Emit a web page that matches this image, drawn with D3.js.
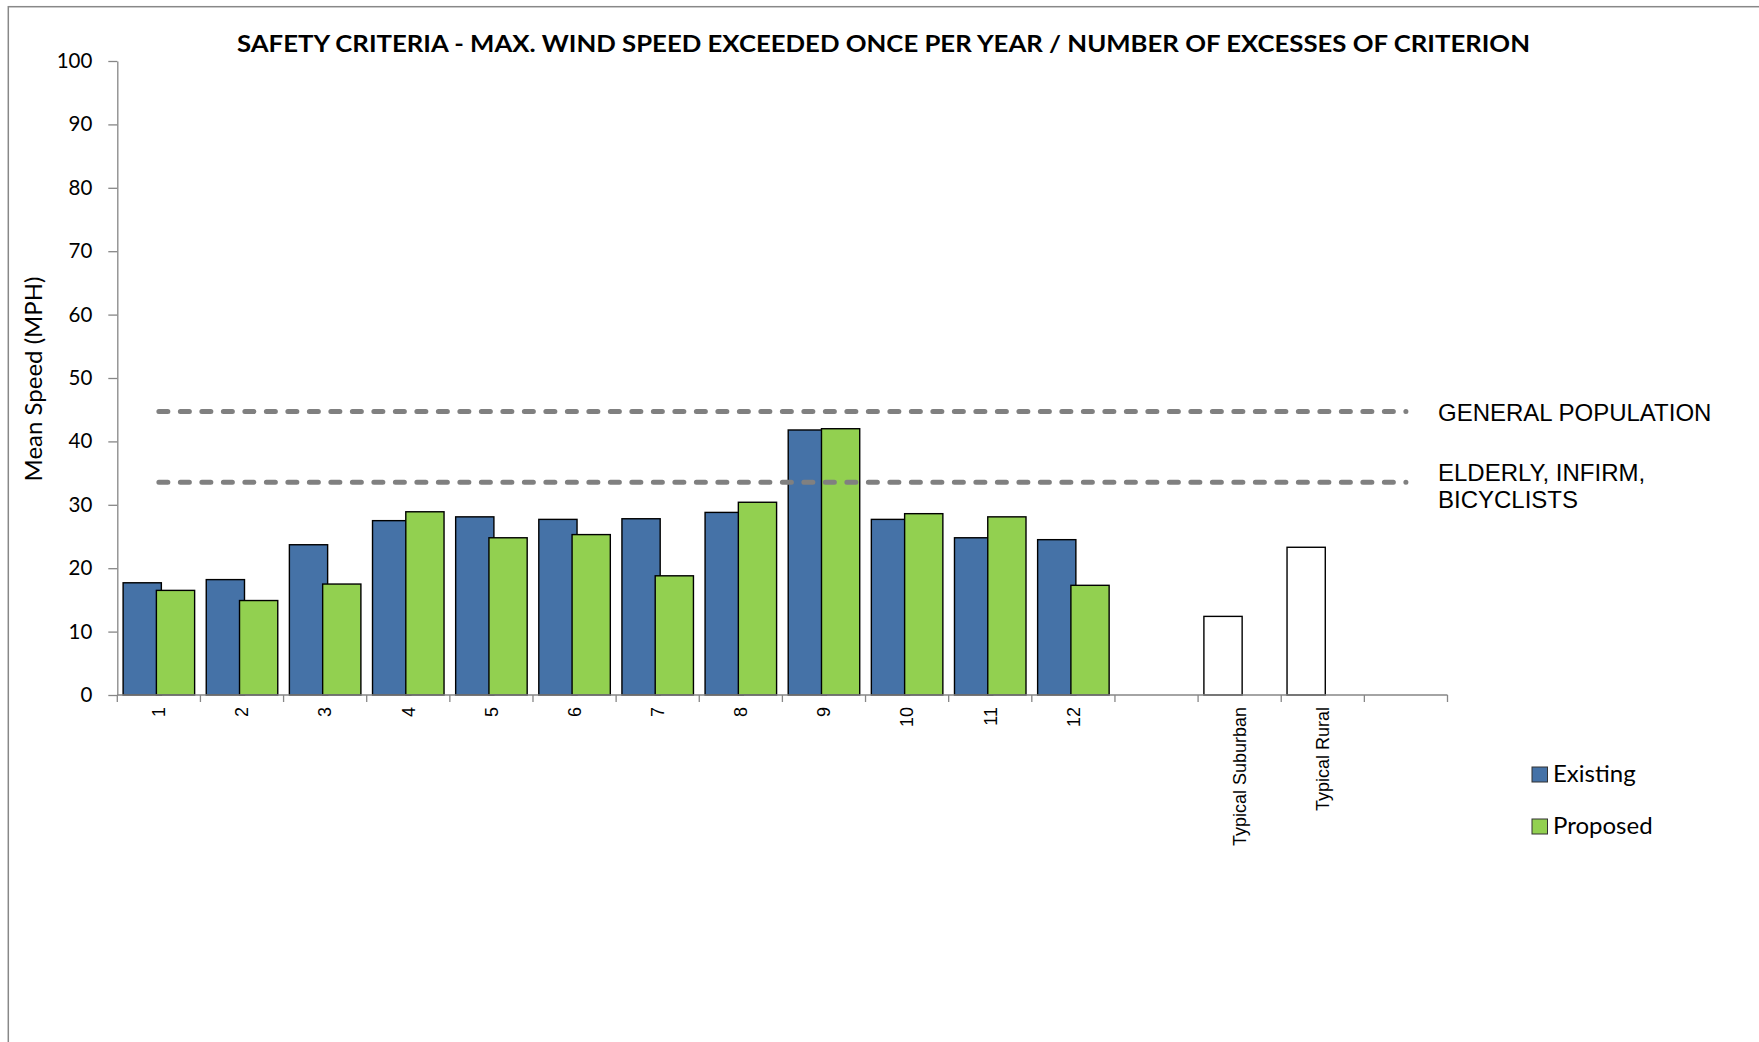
<!DOCTYPE html>
<html>
<head>
<meta charset="utf-8">
<script src="https://cdn.jsdelivr.net/npm/d3@7"></script>
<style>
  html, body { margin: 0; padding: 0; background: #fff; }
  svg { display: block; }
</style>
</head>
<body>
<script>
// ---------------- DATA ----------------
const categories = ["1","2","3","4","5","6","7","8","9","10","11","12","","Typical Suburban","Typical Rural",""];
const existing  = [17.7, 18.2, 23.7, 27.5, 28.1, 27.7, 27.8, 28.8, 41.8, 27.7, 24.8, 24.5, null, null, null, null];
const proposed  = [16.5, 14.9, 17.5, 28.9, 24.8, 25.3, 18.8, 30.4, 42.0, 28.6, 28.1, 17.3, null, null, null, null];
const typical   = [null, null, null, null, null, null, null, null, null, null, null, null, null, 12.4, 23.3, null];
const yTicks = [0, 10, 20, 30, 40, 50, 60, 70, 80, 90, 100];
const criteria = [
  { value: 44.7,  label: ["GENERAL POPULATION"] },
  { value: 33.55, label: ["ELDERLY, INFIRM,", "BICYCLISTS"] }
];
const seriesNames = ["Existing", "Proposed"];
const titleText = "SAFETY CRITERIA - MAX. WIND SPEED EXCEEDED ONCE PER YEAR / NUMBER OF EXCESSES OF CRITERION";
const yTitle = "Mean Speed (MPH)";

// ---------------- LAYOUT ----------------
const W = 1759, H = 1042;
const plotLeft = 117.3, plotRight = 1447.5, plotTop = 61, plotBottom = 695;
const colExisting = "#4572A7", colProposed = "#92D050", axisCol = "#868686";

const svg = d3.select("body").append("svg").attr("width", W).attr("height", H);

// outer chart border (extends beyond view on right/bottom)
svg.append("rect").attr("x", 8.3).attr("y", 6.7).attr("width", 3000).attr("height", 3000)
  .attr("fill", "none").attr("stroke", "#888").attr("stroke-width", 1.5);

const x = d3.scaleBand().domain(d3.range(categories.length)).range([plotLeft, plotRight]).paddingInner(0).paddingOuter(0);
const y = d3.scaleLinear().domain([0, 100]).range([plotBottom, plotTop]);

const bw = x.bandwidth();
const barW = bw * 0.46;
const overlap = barW * 0.13;
const groupW = 2 * barW - overlap;
const off0 = (bw - groupW) / 2;
const off1 = off0 + barW - overlap;

// Title
svg.append("text")
  .attr("x", 883.5).attr("y", 52)
  .attr("text-anchor", "middle")
  .attr("font-family", "Lato, 'Open Sans', sans-serif")
  .attr("font-weight", "bold")
  .attr("font-size", 23)
  .attr("textLength", 1293).attr("lengthAdjust", "spacingAndGlyphs")
  .attr("fill", "#000")
  .text(titleText);

// Y axis
const yAxis = svg.append("g").attr("transform", `translate(${plotLeft},0)`)
  .call(d3.axisLeft(y).tickValues(yTicks).tickSize(9).tickSizeOuter(0).tickPadding(16));
yAxis.select(".domain").attr("stroke", axisCol).attr("stroke-width", 1.3);
yAxis.selectAll(".tick line").attr("stroke", axisCol).attr("stroke-width", 1.3);
yAxis.selectAll(".tick text").attr("font-family", "Lato, sans-serif").attr("font-size", 20.5).attr("fill", "#000");

// Y title
svg.append("text")
  .attr("transform", `translate(42,379) rotate(-90)`)
  .attr("text-anchor", "middle")
  .attr("font-family", "Lato, sans-serif")
  .attr("font-size", 24)
  .attr("fill", "#000")
  .text(yTitle);

// Bars
function drawSeries(vals, offset, fill) {
  svg.append("g").selectAll("rect")
    .data(vals.map((v, i) => ({ v, i })).filter(d => d.v != null))
    .join("rect")
    .attr("x", d => x(d.i) + offset)
    .attr("y", d => y(d.v))
    .attr("width", barW)
    .attr("height", d => y(0) - y(d.v))
    .attr("fill", fill)
    .attr("stroke", "#000")
    .attr("stroke-width", 1.4);
}
drawSeries(existing, off0, colExisting);
drawSeries(proposed, off1, colProposed);
drawSeries(typical, off0, "#ffffff");

// X axis line + boundary ticks
svg.append("line")
  .attr("x1", plotLeft).attr("x2", plotRight)
  .attr("y1", y(0)).attr("y2", y(0))
  .attr("stroke", axisCol).attr("stroke-width", 1.3);
const bounds = d3.range(categories.length).map(i => x(i)).concat([x(categories.length - 1) + bw]);
svg.append("g").selectAll("line").data(bounds).join("line")
  .attr("x1", d => d).attr("x2", d => d)
  .attr("y1", y(0)).attr("y2", y(0) + 7)
  .attr("stroke", axisCol).attr("stroke-width", 1.3);

// X labels via axis
const xAxis = svg.append("g").attr("transform", `translate(0,${y(0)})`)
  .call(d3.axisBottom(x).tickSize(0).tickFormat(i => categories[i]));
xAxis.select(".domain").remove();
xAxis.selectAll(".tick text")
  .attr("transform", "rotate(-90)")
  .attr("x", -12).attr("y", 0).attr("dy", "0.35em")
  .attr("text-anchor", "end")
  .attr("font-family", "'Liberation Sans', Arial, sans-serif")
  .attr("font-size", 18)
  .attr("fill", "#000");

// Criteria dashed lines
const xStart = x(0) + bw / 2, xEnd = x(categories.length - 1) + bw / 2;
criteria.forEach(c => {
  svg.append("line")
    .attr("x1", xStart).attr("x2", xEnd)
    .attr("y1", y(c.value)).attr("y2", y(c.value))
    .attr("stroke", "#808080").attr("stroke-width", 5)
    .attr("stroke-linecap", "round")
    .attr("stroke-dasharray", "9 12.5");
});

// Criteria labels
svg.append("text").attr("x", 1438).attr("y", 421)
  .attr("font-family", "'Liberation Sans', Arial, sans-serif").attr("font-size", 24).attr("fill", "#000")
  .text(criteria[0].label[0]);
const lab2 = svg.append("text").attr("x", 1438).attr("y", 481)
  .attr("font-family", "'Liberation Sans', Arial, sans-serif").attr("font-size", 24).attr("fill", "#000");
criteria[1].label.forEach((t, k) => {
  lab2.append("tspan").attr("x", 1438).attr("dy", k === 0 ? 0 : 26.5).text(t);
});

// Legend
const legend = svg.append("g");
[colExisting, colProposed].forEach((c, k) => {
  const ly = 767 + k * 52;
  legend.append("rect").attr("x", 1532).attr("y", ly).attr("width", 15.5).attr("height", 15)
    .attr("fill", c).attr("stroke", "#333").attr("stroke-width", 1);
  legend.append("text").attr("x", 1553).attr("y", ly + 15)
    .attr("font-family", "Lato, sans-serif").attr("font-size", 24).attr("fill", "#000")
    .text(seriesNames[k]);
});
</script>
</body>
</html>
